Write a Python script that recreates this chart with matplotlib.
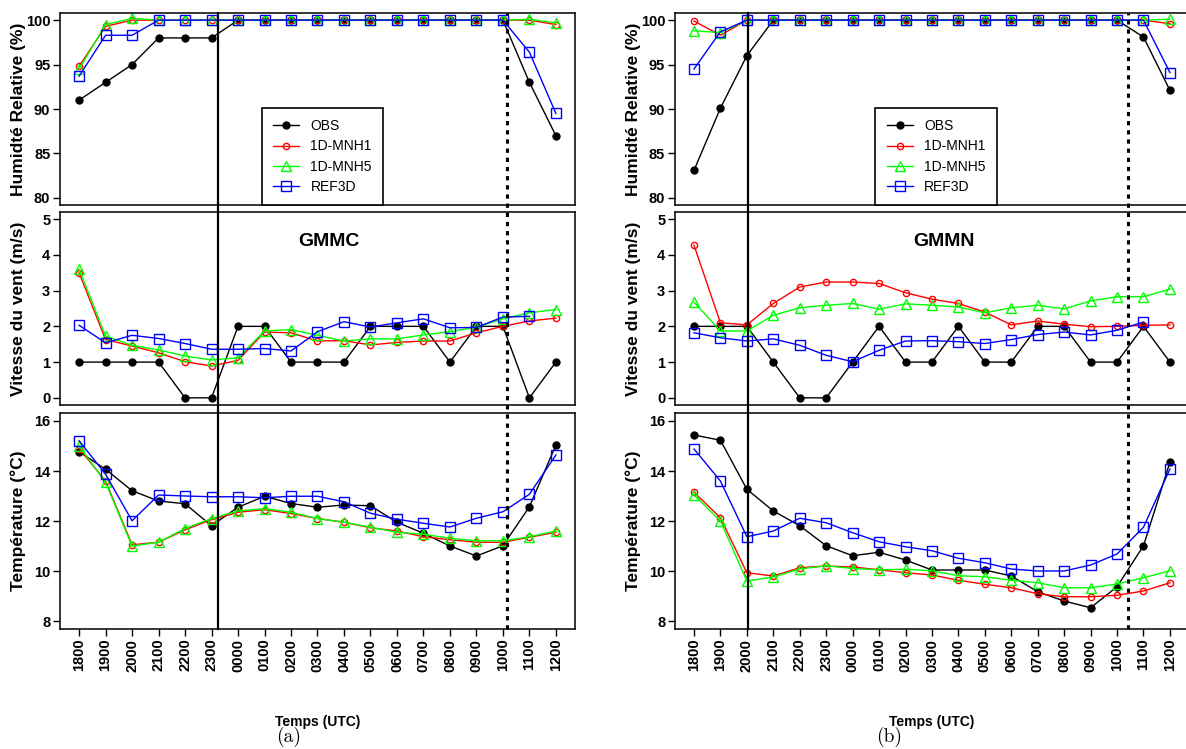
#-*-coding: utf-8-*-
# Comparaison OBS / 1D-MNH1 / 1D-MNH5 / REF3D aux stations GMMC et GMMN
# trois panneaux par station : humidite, vent, temperature

import numpy as np
import matplotlib
matplotlib.use('Agg')
import matplotlib.pyplot as plt
from matplotlib import font_manager
from matplotlib.lines import Line2D
from matplotlib.transforms import blended_transform_factory

plt.rcParams['font.family'] = ['Liberation Sans', 'DejaVu Sans']

# police etroite pour les graduations si elle existe
noms = {f.name for f in font_manager.fontManager.ttflist}
police_grad = 'Liberation Sans Narrow' if 'Liberation Sans Narrow' in noms else 'Liberation Sans'

#################
# donnees
heures = ['1800', '1900', '2000', '2100', '2200', '2300', '0000', '0100', '0200', '0300',
          '0400', '0500', '0600', '0700', '0800', '0900', '1000', '1100', '1200']
series = ['OBS', '1D-MNH1', '1D-MNH5', 'REF3D']

# GMMC
hr_obs_c = [91, 93, 95, 98, 98, 98, 100, 100, 100, 100, 100, 100, 100, 100, 100, 100, 100, 93, 87]
hr_mnh1_c = [94.8, 99.3, 100, 100, 100, 100, 100, 100, 100, 100, 100, 100, 100, 100, 100, 100, 100, 100, 99.5]
hr_mnh5_c = [94.5, 99.5, 100.2, 100, 100, 100, 100, 100, 100, 100, 100, 100, 100, 100, 100, 100, 100, 100.1, 99.7]
hr_ref_c = [93.7, 98.3, 98.3, 100, 100, 100, 100, 100, 100, 100, 100, 100, 100, 100, 100, 100, 100, 96.4, 89.5]

vv_obs_c = [1, 1, 1, 1, 0, 0, 2, 2, 1, 1, 1, 2, 2, 2, 1, 2, 2, 0, 1]
vv_mnh1_c = [3.5, 1.63, 1.45, 1.26, 1.01, 0.89, 1.05, 1.84, 1.82, 1.59, 1.6, 1.48, 1.55, 1.59, 1.59, 1.82, 2.0, 2.15, 2.23]
vv_mnh5_c = [3.6, 1.73, 1.47, 1.34, 1.17, 1.06, 1.12, 1.87, 1.91, 1.75, 1.59, 1.65, 1.65, 1.76, 1.85, 1.98, 2.21, 2.38, 2.47]
vv_ref_c = [2.03, 1.54, 1.75, 1.66, 1.52, 1.36, 1.36, 1.38, 1.31, 1.85, 2.13, 1.98, 2.1, 2.21, 1.96, 1.97, 2.26, 2.28, np.nan]

t_obs_c = [14.77, 14.07, 13.21, 12.8, 12.69, 11.81, 12.55, 12.99, 12.7, 12.55, 12.64, 12.61, 11.95, 11.51, 11.0, 10.6, 11.01, 12.57, 15.04]
t_mnh1_c = [14.9, 13.6, 11.05, 11.15, 11.65, 12.05, 12.35, 12.45, 12.3, 12.1, 11.95, 11.73, 11.6, 11.37, 11.25, 11.15, 11.15, 11.35, 11.55]
t_mnh5_c = [15.0, 13.55, 11.0, 11.15, 11.7, 12.1, 12.4, 12.5, 12.35, 12.1, 11.95, 11.75, 11.55, 11.47, 11.31, 11.21, 11.21, 11.37, 11.6]
t_ref_c = [15.21, 13.87, 12.01, 13.04, 13.0, 12.97, 12.97, 12.93, 12.99, 12.99, 12.77, 12.31, 12.07, 11.91, 11.76, 12.11, 12.37, 13.07, 14.64]

# GMMN
hr_obs_n = [83.1, 90.1, 96.0, 100, 100, 100, 100, 100, 100, 100, 100, 100, 100, 100, 100, 100, 100, 98.1, 92.1]
hr_mnh1_n = [99.9, 98.3, 100, 100, 100, 100, 100, 100, 100, 100, 100, 100, 100, 100, 100, 100, 100, 100, 99.6]
hr_mnh5_n = [98.8, 98.6, 100, 100, 100, 100, 100, 100, 100, 100, 100, 100, 100, 100, 100, 100, 100, 100, 100.1]
hr_ref_n = [94.5, 98.7, 100, 100, 100, 100, 100, 100, 100, 100, 100, 100, 100, 100, 100, 100, 100, 100, 94.1]

vv_obs_n = [2, 2, 2, 1, 0, 0, 1, 2, 1, 1, 2, 1, 1, 2, 2, 1, 1, 2, 1]
vv_mnh1_n = [4.27, 2.1, 2.04, 2.64, 3.1, 3.24, 3.24, 3.2, 2.94, 2.76, 2.64, 2.4, 2.04, 2.15, 2.06, 1.99, 2.0, 2.03, 2.04]
vv_mnh5_n = [2.68, 1.87, 1.87, 2.31, 2.52, 2.59, 2.64, 2.48, 2.63, 2.59, 2.54, 2.38, 2.52, 2.59, 2.49, 2.71, 2.83, 2.83, 3.04]
vv_ref_n = [1.82, 1.68, 1.59, 1.65, 1.47, 1.19, 1.01, 1.33, 1.59, 1.6, 1.57, 1.52, 1.63, 1.77, 1.84, 1.76, 1.89, 2.12, np.nan]

t_obs_n = [15.44, 15.23, 13.27, 12.4, 11.81, 11.01, 10.61, 10.75, 10.44, 10.04, 10.04, 10.04, 9.8, 9.17, 8.8, 8.53, 9.37, 11.01, 14.35]
t_mnh1_n = [13.15, 12.13, 9.93, 9.8, 10.13, 10.2, 10.16, 10.05, 9.93, 9.84, 9.63, 9.47, 9.33, 9.09, 8.97, 8.97, 9.03, 9.2, 9.53]
t_mnh5_n = [13.04, 12.0, 9.6, 9.76, 10.08, 10.21, 10.1, 10.05, 10.07, 10.01, 9.81, 9.77, 9.63, 9.53, 9.33, 9.33, 9.48, 9.73, 10.01]
t_ref_n = [14.88, 13.6, 11.37, 11.6, 12.11, 11.93, 11.53, 11.17, 10.97, 10.81, 10.51, 10.33, 10.08, 10.0, 10.0, 10.24, 10.68, 11.75, 14.08]

# styles facon R (pch 19, 1, 2, 0)
styles = [dict(color='black', marker='o', ms=5, mfc='black', mec='black'),
          dict(color='red', marker='o', ms=4.5, mfc='none', mec='red'),
          dict(color='#00ff00', marker='^', ms=7.5, mfc='none', mec='#00ff00'),
          dict(color='blue', marker='s', ms=6.5, mfc='none', mec='blue')]

# position verticale des trois panneaux (bas, hauteur) en fraction de figure
rangees = [(0.7263, 0.2563), (0.4593, 0.2577), (0.1602, 0.2884)]
y_haut = 0.9826


def tracer_station(fig, x0, largeur, hr, vv, tt, nom, x_plein, x_pointille, leg_x):
    axes = []
    for bas, haut in rangees:
        axes.append(fig.add_axes([x0, bas, largeur, haut]))
    a_hr, a_vv, a_tt = axes
    x = np.arange(len(heures))

    blocs = [(a_hr, hr, (79.2, 100.8), [80, 85, 90, 95, 100], 'Humidté Relative (%)'),
             (a_vv, vv, (-0.2, 5.2), [0, 1, 2, 3, 4, 5], 'Vitesse du vent (m/s)'),
             (a_tt, tt, (7.68, 16.32), [8, 10, 12, 14, 16], 'Température (°C)')]

    for ax, donnees, lim, graduations, titre in blocs:
        for serie, st in zip(donnees, styles):
            ax.plot(x, serie, lw=1.0, mew=1.0, **st)
        ax.set_xlim(-0.72, 18.72)
        ax.set_ylim(*lim)
        ax.set_yticks(graduations)
        ax.set_yticklabels([str(g) for g in graduations], fontsize=10.5,
                           fontweight='bold', fontfamily=police_grad)
        ax.tick_params(direction='out', length=5, width=1, pad=2)
        ax.set_ylabel(titre, fontsize=12.5, fontweight='bold')
        ax.yaxis.set_label_coords(-0.066, 0.5)
        for s in ax.spines.values():
            s.set_linewidth(1.1)
        if ax is a_tt:
            ax.set_xticks(x)
            ax.set_xticklabels(heures, rotation=90, fontsize=10.5,
                               fontweight='bold', fontfamily=police_grad)
        else:
            ax.set_xticks([])

    # legende dans le panneau humidite
    poignees = [Line2D([], [], lw=1.0, mew=1.0, **st) for st in styles]
    leg = a_hr.legend(poignees, series, loc='lower left', bbox_to_anchor=(leg_x, 0.0),
                      fontsize=10, frameon=True, fancybox=False, framealpha=1,
                      edgecolor='black', handlelength=1.9, handletextpad=0.8,
                      borderpad=0.8, labelspacing=0.45, borderaxespad=0)
    leg.get_frame().set_linewidth(1.2)

    a_vv.text(9.45, 4.38, nom, ha='center', va='center', fontsize=14, fontweight='bold')

    # lignes verticales sur toute la hauteur
    tr = blended_transform_factory(a_tt.transData, fig.transFigure)
    fig.add_artist(Line2D([x_plein, x_plein], [rangees[2][0], y_haut], transform=tr,
                          color='black', lw=1.6))
    fig.add_artist(Line2D([x_pointille, x_pointille], [rangees[2][0], y_haut], transform=tr,
                          color='black', lw=2.2, linestyle=(0, (1.4, 1.6))))
    return axes


fig = plt.figure(figsize=(11.86, 7.49), dpi=100)

tracer_station(fig, 0.0506, 0.4342,
               [hr_obs_c, hr_mnh1_c, hr_mnh5_c, hr_ref_c],
               [vv_obs_c, vv_mnh1_c, vv_mnh5_c, vv_ref_c],
               [t_obs_c, t_mnh1_c, t_mnh5_c, t_ref_c],
               'GMMC', 5.23, 16.14, 0.392)
tracer_station(fig, 0.5691, 0.4334,
               [hr_obs_n, hr_mnh1_n, hr_mnh5_n, hr_ref_n],
               [vv_obs_n, vv_mnh1_n, vv_mnh5_n, vv_ref_n],
               [t_obs_n, t_mnh1_n, t_mnh5_n, t_ref_n],
               'GMMN', 2.04, 16.40, 0.39)

fig.text(318 / 1186, 1 - 722 / 749, 'Temps (UTC)', ha='center', va='center',
         fontsize=10, fontweight='bold')
fig.text(932 / 1186, 1 - 722 / 749, 'Temps (UTC)', ha='center', va='center',
         fontsize=10, fontweight='bold')
fig.text(289 / 1186, 1 - 737 / 749, '(a)', ha='center', va='center',
         fontsize=14, fontfamily=['cmr10', 'DejaVu Serif'])
fig.text(889 / 1186, 1 - 737 / 749, '(b)', ha='center', va='center',
         fontsize=14, fontfamily=['cmr10', 'DejaVu Serif'])

fig.savefig('out.png', dpi=100)
